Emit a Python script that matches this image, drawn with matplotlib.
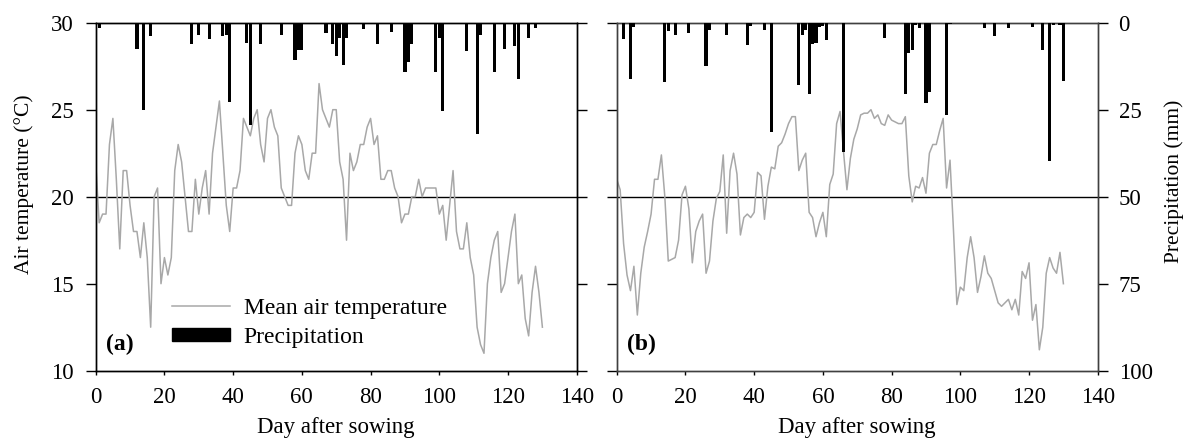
import numpy as np
import matplotlib
matplotlib.use("Agg")
import matplotlib.pyplot as plt
from matplotlib.lines import Line2D
from matplotlib.patches import Patch

# ============================
# Daten
# ============================
DAYS = list(range(0, 131))

TEMP_A = [
    22.0, 18.5, 19.0, 19.0, 23.0, 24.5, 21.0, 17.0, 21.5, 21.5,
    19.5, 18.0, 18.0, 16.5, 18.5, 16.5, 12.5, 20.0, 20.5, 15.0,
    16.5, 15.5, 16.5, 21.5, 23.0, 22.0, 20.0, 18.0, 18.0, 21.0,
    19.0, 20.5, 21.5, 19.0, 22.5, 24.0, 25.5, 22.5, 19.5, 18.0,
    20.5, 20.5, 21.5, 24.5, 24.0, 23.5, 24.5, 25.0, 23.0, 22.0,
    24.5, 25.0, 24.0, 23.5, 20.5, 20.0, 19.5, 19.5, 22.5, 23.5,
    23.0, 21.5, 21.0, 22.5, 22.5, 26.5, 25.0, 24.5, 24.0, 25.0,
    25.0, 22.0, 21.0, 17.5, 22.5, 21.5, 22.0, 23.0, 23.0, 24.0,
    24.5, 23.0, 23.5, 21.0, 21.0, 21.5, 21.5, 20.5, 20.0, 18.5,
    19.0, 19.0, 20.0, 20.0, 21.0, 20.0, 20.5, 20.5, 20.5, 20.5,
    19.0, 19.5, 17.5, 19.5, 21.5, 18.0, 17.0, 17.0, 18.5, 16.5,
    15.5, 12.5, 11.5, 11.0, 15.0, 16.5, 17.5, 18.0, 14.5, 15.0,
    16.5, 18.0, 19.0, 15.0, 15.5, 13.0, 12.0, 14.5, 16.0, 14.5,
    12.5,
]

TEMP_B = [
    21.0, 20.4, 17.3, 15.5, 14.6, 16.0, 13.2, 15.6, 17.1, 18.0,
    19.0, 21.0, 21.0, 22.4, 20.0, 16.3, 16.4, 16.5, 17.5, 20.1,
    20.6, 19.3, 16.2, 18.0, 18.6, 19.0, 15.6, 16.3, 18.6, 19.9,
    20.3, 22.4, 17.9, 21.5, 22.5, 21.3, 17.8, 18.8, 19.0, 18.8,
    19.1, 21.4, 21.2, 18.7, 20.6, 21.7, 21.6, 22.9, 23.1, 23.6,
    24.2, 24.6, 24.6, 21.5, 22.1, 22.5, 19.1, 18.8, 17.7, 18.5,
    19.1, 17.7, 20.7, 21.3, 24.2, 24.9, 22.6, 20.4, 22.2, 23.3,
    23.9, 24.7, 24.8, 24.8, 25.0, 24.5, 24.7, 24.2, 24.1, 24.7,
    24.4, 24.3, 24.2, 24.2, 24.6, 21.2, 19.7, 20.6, 20.5, 21.1,
    20.2, 22.5, 23.0, 23.0, 23.8, 24.5, 20.5, 22.1, 18.1, 13.8,
    14.8, 14.6, 16.5, 17.7, 16.5, 14.5, 15.4, 16.6, 15.6, 15.3,
    14.6, 13.9, 13.7, 13.9, 14.1, 13.5, 14.1, 13.2, 15.7, 15.3,
    16.2, 12.9, 13.8, 11.2, 12.5, 15.6, 16.5, 15.9, 15.6, 16.8,
    15.0,
]

RAIN_A_DAYS = [0, 1, 12, 14, 16, 28, 30, 33, 37, 38, 39, 44, 45, 48, 54,
               58, 59, 60, 67, 69, 70, 71, 72, 73, 78, 82, 86, 90, 91, 92,
               99, 100, 101, 108, 111, 112, 116, 119, 122, 123, 126, 128]
RAIN_A_MM = [2.5, 1.5, 7.6, 25.0, 3.7, 6.0, 3.4, 4.8, 3.7, 3.4, 22.8, 5.7, 29.3, 6.2, 3.4,
             10.6, 7.9, 7.9, 3.1, 6.2, 9.5, 4.3, 12.2, 4.5, 1.9, 6.2, 2.6, 14.3, 11.2, 6.2,
             14.1, 4.3, 25.5, 8.2, 32.1, 3.4, 14.3, 7.6, 6.6, 16.3, 4.5, 1.4]

RAIN_B_DAYS = [2, 4, 5, 14, 15, 17, 21, 26, 27, 32, 38, 39, 43, 45, 53,
               54, 55, 56, 57, 58, 59, 60, 61, 66, 78, 84, 85, 86, 87, 88,
               90, 91, 96, 97, 107, 110, 114, 121, 124, 126, 127, 129, 130]
RAIN_B_MM = [4.8, 16.3, 1.2, 17.0, 2.4, 3.4, 3.1, 12.5, 2.1, 3.4, 6.4, 0.9, 2.1, 31.4, 17.8,
             3.4, 2.1, 20.5, 6.2, 5.7, 1.2, 0.9, 5.0, 37.2, 4.3, 20.5, 8.8, 7.9, 0.7, 1.4,
             23.0, 19.9, 26.4, 0.5, 1.6, 3.7, 1.6, 1.2, 7.9, 39.8, 0.7, 0.7, 16.7]

PANEL_LABELS = ["(a)", "(b)"]
X_TICKS = [0, 20, 40, 60, 80, 100, 120, 140]
T_TICKS = [10, 15, 20, 25, 30]
P_TICKS = [0, 25, 50, 75, 100]

# ============================
# Stil
# ============================
plt.rcParams["font.family"] = ["Liberation Serif", "DejaVu Serif"]
plt.rcParams["font.size"] = 16

LINE_COLOR = "#a8a8a8"
FS_TICK = 16.5
FS_YLAB = 15.5
FS_XLAB = 16.5
FS_LEG = 17
FS_PANEL = 17


def draw_panel(ax, temp, rain_days, rain_mm, label, left_labels, right_labels, spine_col):
    ax.plot(DAYS, temp, color=LINE_COLOR, lw=1.1, zorder=2)
    ax.axhline(20, color="black", lw=1.0, zorder=1)
    ax.set_xlim(0, 140)
    ax.set_ylim(10, 30)
    ax.set_xticks(X_TICKS)
    ax.set_yticks(T_TICKS)
    ax.tick_params(axis="x", direction="out", length=3, width=1,
                   labelsize=FS_TICK, pad=9)
    ax.tick_params(axis="y", direction="out", length=7, width=1,
                   labelsize=FS_TICK, pad=9, labelleft=left_labels)
    ax.set_xlabel("Day after sowing", fontsize=FS_XLAB)
    ax.xaxis.set_label_coords(0.5, -0.133)
    for sp in ax.spines.values():
        sp.set_linewidth(1.0)
        sp.set_color(spine_col)

    ax2 = ax.twinx()
    ax2.bar(rain_days, rain_mm, width=0.92, color="black", align="center", zorder=3)
    ax2.set_ylim(100, 0)
    ax2.set_yticks(P_TICKS)
    ax2.tick_params(axis="y", direction="out", length=7, width=1,
                    labelsize=FS_TICK, labelright=right_labels, pad=8)
    for sp in ax2.spines.values():
        sp.set_linewidth(1.0)
        sp.set_color(spine_col)

    ax.text(0.022, 0.045, label, transform=ax.transAxes, fontsize=FS_PANEL,
            fontweight="bold", ha="left", va="bottom", zorder=5)
    return ax2


fig = plt.figure(figsize=(11.86, 4.45), dpi=100)
ax_a = fig.add_axes([0.0807, 0.1670, 0.4056, 0.7820])
ax_b = fig.add_axes([0.5200, 0.1670, 0.4056, 0.7820])

ax_a2 = draw_panel(ax_a, TEMP_A, RAIN_A_DAYS, RAIN_A_MM, PANEL_LABELS[0], True, False, "black")
ax_b2 = draw_panel(ax_b, TEMP_B, RAIN_B_DAYS, RAIN_B_MM, PANEL_LABELS[1], False, True, "#404040")

ax_a.set_ylabel("Air temperature (°C)", fontsize=FS_YLAB)
ax_a.yaxis.set_label_coords(-0.128, 0.535)
ax_b2.set_ylabel("Precipitation (mm)", fontsize=FS_YLAB)
ax_b2.yaxis.set_label_coords(1.138, 0.545)

handles = [Line2D([0], [0], color=LINE_COLOR, lw=1.1),
           Patch(facecolor="black", edgecolor="black")]
ax_a2.legend(handles, ["Mean air temperature", "Precipitation"],
             loc="upper left", bbox_to_anchor=(0.158, 0.21), frameon=False,
             fontsize=FS_LEG, handlelength=2.45, handleheight=0.45,
             handletextpad=0.6, labelspacing=0.35, borderpad=0, borderaxespad=0)

fig.savefig("out.png", dpi=100)
